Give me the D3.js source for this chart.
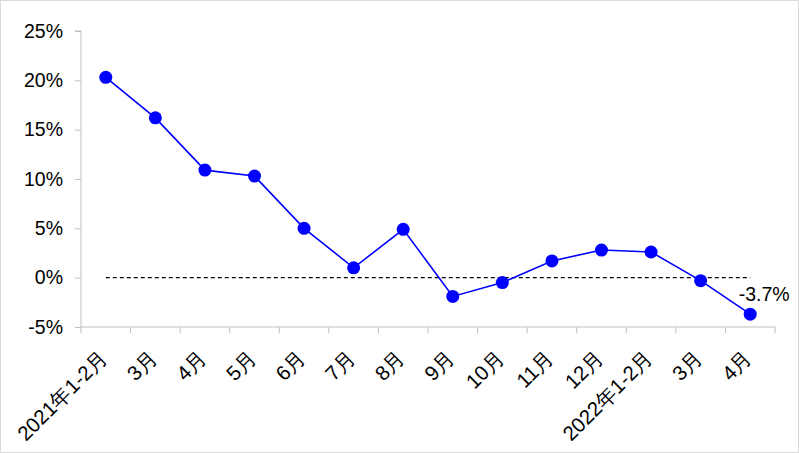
<!DOCTYPE html>
<html><head><meta charset="utf-8">
<script src="https://cdn.jsdelivr.net/npm/d3@7"></script>
<style>body{margin:0;background:#fff}svg{display:block}</style>
</head><body>
<script>
const categories = ["2021年1-2月","3月","4月","5月","6月","7月","8月","9月","10月","11月","12月","2022年1-2月","3月","4月"];
const values = [20.3, 16.2, 10.9, 10.3, 5.0, 1.0, 4.9, -1.9, -0.5, 1.7, 2.8, 2.6, -0.3, -3.7];
const yTicks = [-5, 0, 5, 10, 15, 20, 25];

const W = 799, H = 453;
const m = {left: 81, right: 24, top: 31, bottom: 126};
const svg = d3.select("body").append("svg").attr("width", W).attr("height", H);
svg.append("rect").attr("x",0.5).attr("y",0.5).attr("width",W-1).attr("height",H-1)
  .attr("fill","#fff").attr("stroke","#d9d9d9");

const x = d3.scaleBand().domain(d3.range(categories.length)).range([m.left, W - m.right]);
const y = d3.scaleLinear().domain([-5, 25]).range([H - m.bottom, m.top]);
const font = "Liberation Sans, Arial, sans-serif";

const ya = svg.append("g").attr("transform", `translate(${m.left},0)`)
  .call(d3.axisLeft(y).tickValues(yTicks).tickSize(6).tickPadding(12).tickFormat(d => d + "%"));
ya.selectAll("path,line").attr("stroke", "#bfbfbf");
ya.select(".domain").attr("d", `M-6,${y(25)}H0V${y(-5)}`);
ya.selectAll("text").attr("font-family", font).attr("font-size", 19.5).attr("fill", "#000");

const xa = svg.append("g").attr("transform", `translate(0,${y(-5)})`);
xa.append("line").attr("x1", m.left).attr("x2", W - m.right).attr("stroke", "#bfbfbf");
const tickPos = d3.range(categories.length + 1).map(i => m.left + i * x.step());
xa.selectAll(".tk").data(tickPos).join("line").attr("x1", d => d).attr("x2", d => d)
  .attr("y1", 0).attr("y2", 6).attr("stroke", "#bfbfbf");
xa.selectAll("text").data(categories).join("text")
  .attr("transform", (d, i) => `translate(${x(i) + x.bandwidth()/2 - 2},${27}) rotate(-45)`)
  .attr("text-anchor", "end").attr("font-family", font).attr("font-size", 20.5)
  .attr("dy", "0.35em").text(d => d);

const cx = i => x(i) + x.bandwidth() / 2;
svg.append("line").attr("x1", cx(0)).attr("x2", cx(categories.length - 1))
  .attr("y1", y(0)).attr("y2", y(0)).attr("stroke", "#000").attr("stroke-width", 1.4)
  .attr("stroke-dasharray", "4,3");

svg.append("path").datum(values)
  .attr("d", d3.line().x((d, i) => cx(i)).y(d => y(d)))
  .attr("fill", "none").attr("stroke", "#0000ff").attr("stroke-width", 1.6);
svg.selectAll(".pt").data(values).join("circle")
  .attr("cx", (d, i) => cx(i)).attr("cy", d => y(d)).attr("r", 6.5).attr("fill", "#0000ff");

const li = values.length - 1;
svg.append("text").attr("x", cx(li) + 14).attr("y", y(values[li]) - 13)
  .attr("text-anchor", "middle").attr("font-family", font).attr("font-size", 19.5)
  .text(values[li].toFixed(1) + "%");
</script>
</body></html>
